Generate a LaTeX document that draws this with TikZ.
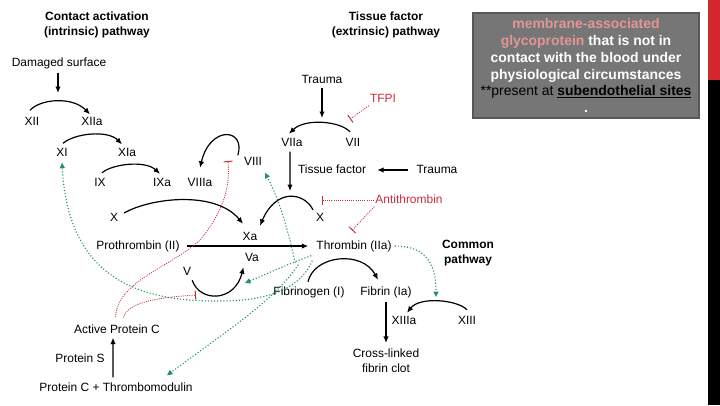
\documentclass[tikz,border=0pt]{standalone}
\usepackage{fontspec}
\setmainfont{Liberation Sans}
\usetikzlibrary{arrows.meta}
\definecolor{inhred}{RGB}{205,45,60}
\definecolor{actgreen}{RGB}{35,145,95}
\definecolor{boxgray}{RGB}{118,118,118}
\definecolor{boxedge}{RGB}{88,88,88}
\definecolor{pinktext}{RGB}{228,150,150}
\definecolor{barred}{RGB}{212,38,45}

\begin{document}
\begin{tikzpicture}[
      x=1bp, y=-1bp,
      factor/.style  = {font=\fontsize{12}{15}\selectfont, inner sep=1bp,
                        text height=8.6bp, text depth=2.4bp},
      title/.style   = {font=\bfseries\fontsize{12}{15}\selectfont, align=center, inner sep=1bp},
      stack/.style   = {font=\fontsize{12}{15}\selectfont, align=center, inner sep=1bp},
      redlbl/.style  = {text=inhred},
      note/.style    = {draw=boxedge, line width=2.5bp, fill=boxgray, minimum width=226bp,
                        minimum height=105bp, align=center, text=white, inner sep=0pt,
                        font=\bfseries\fontsize{14}{17}\selectfont},
      arrow/.style   = {-{Latex[length=6.5bp, width=5.5bp]}, line width=1.2bp},
      activ/.style   = {-{Triangle[length=5.5bp, width=5bp]}, draw=actgreen, fill=none,
                        line width=1.1bp, dash pattern=on 1.1bp off 2bp},
      inhib/.style   = {-{Bar[width=9bp, line width=1bp]}, draw=inhred,
                        line width=0.8bp, dash pattern=on 1bp off 1.2bp}
    ]
    \useasboundingbox (0,0) rectangle (720,405);
    \fill[white] (0,0) rectangle (720,405);

    % Side bar and note
    \fill[barred] (708,0) rectangle (720,80);
    \fill[black] (708,80) rectangle (720,405);
    \node[note] (note) at (586,65.5) {\textcolor{pinktext}{membrane-associated}\\
      \textcolor{pinktext}{glycoprotein} that is not in\\
      contact with the blood under\\
      physiological circumstances\\
      {\color{black}\mdseries **present at \textbf{\underline{subendothelial sites}}}\\
      .};

    % Headers
    \node[title] (intr) at (97,24.5) {Contact activation\\(intrinsic) pathway};
    \node[title] (extr) at (386,24.5) {Tissue factor\\(extrinsic) pathway};
    \node[title] (common) at (468,253) {Common\\pathway};

    % Intrinsic pathway
    \node[factor] (dmg) at (59,63) {Damaged surface};
    \node[factor] (xii) at (32,122) {XII};
    \node[factor] (xiia) at (92,122) {XIIa};
    \node[factor] (xi) at (62,153) {XI};
    \node[factor] (xia) at (127,153) {XIa};
    \node[factor] (ix) at (100,183) {IX};
    \node[factor] (ixa) at (162,183) {IXa};
    \node[factor] (viiia) at (200,183) {VIIIa};
    \node[factor] (viii) at (253,162) {VIII};
    \node[factor] (xl) at (114,218) {X};

    % Extrinsic pathway
    \node[factor] (trauma1) at (322,80) {Trauma};
    \node[factor, redlbl] (tfpi) at (383,99) {TFPI};
    \node[factor] (viia) at (292,143) {VIIa};
    \node[factor] (vii) at (353,143) {VII};
    \node[factor] (tf) at (332,170) {Tissue factor};
    \node[factor] (trauma2) at (437,170) {Trauma};
    \node[factor] (xr) at (320,218) {X};
    \node[factor, redlbl] (antithr) at (409,200) {Antithrombin};

    % Common pathway
    \node[factor] (xa) at (250,237) {Xa};
    \node[factor] (proth) at (138,246) {Prothrombin (II)};
    \node[factor] (thr) at (354,246) {Thrombin (IIa)};
    \node[factor] (va) at (252,258) {Va};
    \node[factor] (v) at (187,272) {V};
    \node[factor] (fbg) at (309,292) {Fibrinogen (I)};
    \node[factor] (fbn) at (386,292) {Fibrin (Ia)};
    \node[factor] (xiiia) at (404,321) {XIIIa};
    \node[factor] (xiii) at (467,321) {XIII};
    \node[stack] (clot) at (386,361) {Cross-linked\\fibrin clot};

    % Protein C
    \node[factor] (apc) at (117,330) {Active Protein C};
    \node[factor] (ps) at (80,359) {Protein S};
    \node[factor] (pctm) at (116,388) {Protein C + Thrombomodulin};

    % Points on the arcs
    \coordinate (xiipeak) at (58,93);
    \coordinate (vpeak) at (322,118);
    \coordinate (tfpeak) at (290,191);
    \coordinate (viiarc) at (350,119);
    \coordinate (xarc) at (322,200);
    \coordinate (viiiarc) at (228,161);
    \coordinate (varc) at (196,295);
    \coordinate (vaarc) at (245,283);
    \coordinate (xiiiarc) at (436,297);

    % Activations
    \draw[arrow, shorten <=3bp] ([xshift=-1bp]dmg.south) -- (xiipeak);
    \draw[arrow] ([shift={(-2,-5)}]xii.north) .. controls (40,99) and (72,96) .. ([shift={(-2,-1)}]xiia.north);
    \draw[arrow] ([shift={(1,-3)}]xi.north) .. controls (75,133) and (108,130) .. ([shift={(-5,-2)}]xia.north);
    \draw[arrow] ([shift={(2,-3.5)}]ix.north) .. controls (112,164) and (145,160) .. ([shift={(-2,-2.5)}]ixa.north);
    \draw[arrow] ([shift={(5,-5)}]xl.east) .. controls (150,198) and (215,190) .. ([shift={(-7,-6.5)}]xa.north);
    \draw[arrow] ([shift={(-7,-1.5)}]xr.north) .. controls (304,192) and (276,188) .. ([shift={(10,-4.5)}]xa.north);
    \draw[arrow] ([xshift=-5bp]viii.north west) .. controls (246,128) and (210,125) .. ([shift={(0,-8.5)}]viiia.north);
    \draw[arrow] ([shift={(-3,-4.5)}]vii.north) .. controls (340,121) and (305,118) .. ([shift={(-3,-2.5)}]viia.north);
    \draw[arrow, shorten <=1bp] (trauma1.south) -- (vpeak);
    \draw[arrow, shorten <=2bp] ([xshift=-2bp]viia.south) -- (tfpeak);
    \draw[arrow, shorten <=7bp, shorten >=10bp] (trauma2.west) -- (tf.east);
    \draw[arrow, shorten <=6bp, shorten >=7bp] (proth.east) -- (thr.west);
    \draw[arrow] ([shift={(0,1.5)}]v.south east) .. controls (200,303) and (235,302) .. ([shift={(-0.5,2.5)}]va.south west);
    \draw[arrow] ([shift={(-1,-3.5)}]fbg.north) .. controls (314,255) and (362,250) .. ([shift={(-8,-5.5)}]fbn.north);
    \draw[arrow, shorten <=3bp, shorten >=5bp] (fbn.south) -- (clot.north);
    \draw[arrow] ([shift={(0,-4.5)}]xiii.north) .. controls (458,300) and (420,296) .. ([shift={(3,-1.5)}]xiiia.north);
    \draw[arrow, shorten <=4bp, shorten >=1bp] ([xshift=-3bp]pctm.north) -- ([xshift=-4bp]apc.south);

    % Thrombin feedback
    \draw[activ] ([shift={(-20,10)}]thr.south west) .. controls (290,240) and (282,205) .. ([shift={(12,4)}]viii.south);
    \draw[activ] ([shift={(-4,3)}]thr.south west) .. controls (290,263) and (262,276) .. (vaarc);
    \draw[activ] ([shift={(-3,8)}]thr.south west) .. controls (300,290) and (265,301) .. (220,301)
                 .. controls (130,302) and (68,272) .. ([yshift=-3bp]xi.south);
    \draw[activ] ([shift={(-17,12)}]thr.south west) .. controls (275,300) and (228,330) .. ([shift={(51,-6)}]pctm.north);
    \draw[activ, shorten <=2bp] (thr.east) .. controls (428,246) and (436,266) .. (xiiiarc);

    % Inhibitions
    \draw[inhib, shorten <=6bp] ([xshift=-2bp]apc.north) .. controls (118,280) and (170,268) .. (200,240)
                 .. controls (225,210) and (230,185) .. (viiiarc);
    \draw[inhib, shorten <=6bp] ([xshift=5bp]apc.north) .. controls (128,300) and (168,297) .. (varc);
    \draw[inhib] (tfpi.south west) -- (viiarc);
    \draw[inhib] (antithr.west) -- (xarc);
    \draw[inhib] (antithr.south west) -- ([shift={(-2,-9)}]thr.north);

  \end{tikzpicture}
\end{document}
